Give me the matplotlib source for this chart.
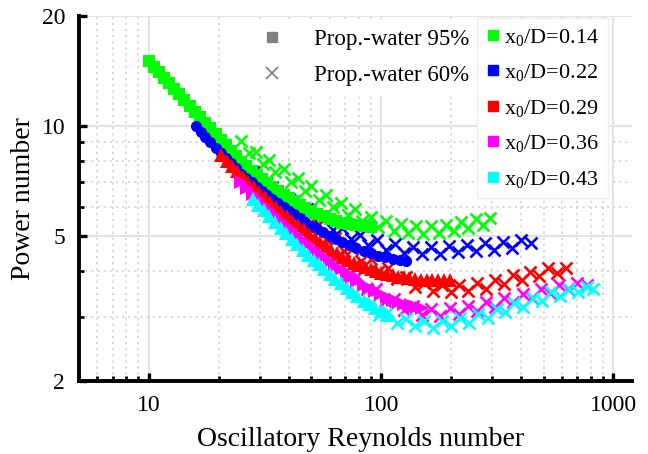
import matplotlib
matplotlib.use("Agg")
import matplotlib.pyplot as plt
from matplotlib.lines import Line2D
from matplotlib.ticker import FixedLocator, NullFormatter

plt.rcParams['font.family'] = ['Liberation Serif', 'DejaVu Serif']
plt.rcParams['mathtext.fontset'] = 'custom'
plt.rcParams['mathtext.rm'] = 'Liberation Serif'
plt.rcParams['mathtext.it'] = 'Liberation Serif:italic'

# ---------------- data ----------------
labels = ["x$_0$/D=0.14", "x$_0$/D=0.22", "x$_0$/D=0.29", "x$_0$/D=0.36", "x$_0$/D=0.43"]
colors = ["#00ff00", "#0000ff", "#ff0000", "#ff00ff", "#00ffff"]
markers95 = ["s", "o", "^", ">", "^"]

# Prop.-water 95%
re95_014 = [10, 10.5, 11, 11.6, 12.2, 12.8, 13.5, 14.2, 15, 15.8, 16.6, 17.5, 18.4, 19.4, 20.4,
            21.5, 22.6, 23.8, 25, 26.3, 27.7, 29.2, 30.7, 32.3, 34, 36, 38, 40, 42, 44.5, 47,
            50, 53, 56, 60, 64, 68, 73, 78, 84, 90]
po95_014 = [15.0, 14.5, 14.0, 13.5, 13.1, 12.6, 12.2, 11.8, 11.3, 10.9, 10.6, 10.2, 9.86, 9.5, 9.17,
            8.85, 8.55, 8.25, 7.97, 7.75, 7.52, 7.32, 7.14, 6.97, 6.8, 6.63, 6.48, 6.34, 6.22, 6.08, 5.96,
            5.84, 5.74, 5.65, 5.56, 5.49, 5.43, 5.38, 5.34, 5.31, 5.29]
re95_022 = [15.9, 16.7, 17.5, 18.4, 19.4, 20.4, 21.5, 22.6, 23.8, 25, 26.3, 27.7, 29.2, 30.7, 32.3,
            34, 36, 38, 40, 42, 44.5, 47, 50, 53, 56, 60, 64, 68, 73, 78, 84, 90, 97, 104, 112, 120, 128]
po95_022 = [10.0, 9.6, 9.3, 9.0, 8.7, 8.4, 8.15, 7.9, 7.65, 7.4, 7.2, 7.0, 6.8, 6.62, 6.46,
            6.3, 6.13, 5.98, 5.84, 5.72, 5.58, 5.45, 5.32, 5.21, 5.11, 5.0, 4.9, 4.8, 4.7, 4.62, 4.54,
            4.47, 4.41, 4.36, 4.31, 4.28, 4.26]
re95_029 = [20.5, 21.6, 22.7, 24, 25.3, 26.7, 28.2, 29.8, 31.5, 33.3, 35.2, 37.2, 39.3, 41.5, 43.8,
            46.3, 48.9, 51.7, 54.6, 57.7, 61, 64.5, 68, 72, 76, 80, 85, 90, 95, 100, 106, 112, 118,
            125, 132, 140, 148, 157, 166, 176, 186, 197]
po95_029 = [8.3, 8.0, 7.75, 7.5, 7.25, 7.0, 6.8, 6.6, 6.4, 6.2, 6.0, 5.82, 5.65, 5.5, 5.35,
            5.2, 5.06, 4.93, 4.8, 4.68, 4.57, 4.47, 4.38, 4.3, 4.22, 4.16, 4.1, 4.04, 4.0, 3.96, 3.92,
            3.89, 3.86, 3.84, 3.82, 3.8, 3.79, 3.78, 3.77, 3.77, 3.77, 3.77]
re95_036 = [25, 26.5, 28, 29.6, 31.3, 33, 35, 37, 39, 41.3, 43.6, 46, 48.6, 51.3, 54, 57, 60, 63.5,
            67, 71, 75, 79, 84, 89, 94, 100, 106, 112, 119, 126, 134, 142, 150]
po95_036 = [7.0, 6.75, 6.52, 6.3, 6.08, 5.88, 5.68, 5.5, 5.33, 5.17, 5.02, 4.88, 4.74, 4.6, 4.48,
            4.36, 4.25, 4.14, 4.04, 3.94, 3.85, 3.76, 3.67, 3.59, 3.52, 3.45, 3.39, 3.34, 3.29, 3.25,
            3.22, 3.19, 3.17]
re95_043 = [28, 29.6, 31.3, 33, 35, 37, 39, 41.3, 43.6, 46, 48.6, 51.3, 54, 57, 60, 63.5, 67, 71,
            75, 79, 84, 89, 94, 100, 106]
po95_043 = [6.3, 6.08, 5.86, 5.66, 5.45, 5.26, 5.08, 4.9, 4.74, 4.58, 4.43, 4.3, 4.17, 4.04, 3.92,
            3.81, 3.7, 3.6, 3.5, 3.41, 3.32, 3.24, 3.17, 3.1, 3.04]

# Prop.-water 60%
re60_014 = [25, 27, 29, 31, 33, 35, 38, 41, 44, 47, 50, 54, 58, 62, 67, 72, 77, 83, 90, 97, 105,
            113, 122, 131, 141, 152, 164, 177, 190, 205, 220, 237, 255, 275, 295]
po60_014 = [9.1, 8.4, 8.5, 7.85, 8.05, 7.45, 7.6, 7.0, 7.2, 6.62, 6.82, 6.28, 6.46, 5.99, 6.15,
            5.7, 5.9, 5.48, 5.64, 5.28, 5.48, 5.16, 5.38, 5.09, 5.33, 5.05, 5.31, 5.07, 5.35, 5.14,
            5.46, 5.25, 5.56, 5.34, 5.6]
re60_022 = [28, 31, 34, 37, 40, 44, 48, 52, 57, 62, 68, 74, 81, 88, 96, 105, 115, 125, 137, 150,
            164, 179, 196, 214, 234, 256, 280, 306, 334, 365, 400, 440]
po60_022 = [7.45, 6.8, 6.8, 6.25, 6.32, 5.88, 5.92, 5.5, 5.56, 5.18, 5.25, 4.9, 5.02, 4.7, 4.86,
            4.57, 4.73, 4.48, 4.66, 4.45, 4.65, 4.46, 4.68, 4.5, 4.72, 4.54, 4.76, 4.58, 4.8, 4.62,
            4.85, 4.78]
re60_029 = [45, 49, 53, 58, 63, 69, 75, 82, 90, 98, 107, 117, 128, 140, 153, 167, 182, 199, 217,
            237, 259, 283, 309, 337, 368, 402, 439, 479, 523, 571, 625]
po60_029 = [5.8, 5.35, 5.32, 4.9, 4.92, 4.55, 4.6, 4.26, 4.32, 4.0, 4.08, 3.8, 3.86, 3.62, 3.72,
            3.52, 3.66, 3.5, 3.66, 3.52, 3.7, 3.58, 3.79, 3.68, 3.89, 3.78, 3.98, 3.87, 4.07, 3.96, 4.08]
re60_036 = [55, 60, 66, 72, 79, 87, 95, 104, 114, 125, 137, 150, 164, 180, 197, 216, 236, 258,
            283, 310, 339, 371, 406, 445, 487, 533, 584, 640, 700, 770]
po60_036 = [4.45, 4.3, 4.25, 3.9, 3.88, 3.56, 3.57, 3.31, 3.35, 3.13, 3.2, 3.04, 3.14, 3.02, 3.16,
            3.05, 3.2, 3.11, 3.28, 3.18, 3.37, 3.28, 3.47, 3.38, 3.57, 3.48, 3.67, 3.57, 3.72, 3.67]
re60_043 = [90, 98, 107, 117, 128, 140, 153, 167, 183, 200, 219, 240, 262, 287, 314, 343, 375,
            410, 449, 491, 537, 587, 642, 702, 768, 820]
po60_043 = [3.26, 3.04, 3.08, 2.88, 2.96, 2.82, 2.91, 2.8, 2.92, 2.83, 2.97, 2.89, 3.05, 2.98,
            3.15, 3.08, 3.26, 3.19, 3.37, 3.31, 3.5, 3.42, 3.58, 3.5, 3.62, 3.57]

re95 = [re95_014, re95_022, re95_029, re95_036, re95_043]
po95 = [po95_014, po95_022, po95_029, po95_036, po95_043]
re60 = [re60_014, re60_022, re60_029, re60_036, re60_043]
po60 = [po60_014, po60_022, po60_029, po60_036, po60_043]

x_major = [10, 100, 1000]
y_major = [2, 5, 10, 20]

# ---------------- figure ----------------
fig = plt.figure(figsize=(6.48, 4.54), dpi=100)
ax = fig.add_axes([0.122, 0.161, 0.853, 0.804])
ax.set_xscale('log')
ax.set_yscale('log')
ax.set_xlim(5, 1200)
ax.set_ylim(2, 20)

for re, po, c in zip(re60, po60, colors):
    ax.plot(re, po, linestyle='none', marker='x', color=c, markersize=9, markeredgewidth=1.9, zorder=3)
for re, po, c, m in zip(re95, po95, colors, markers95):
    ms = 8 if m in ('s', 'o') else 10
    ax.plot(re, po, linestyle='none', marker=m, color=c, markersize=ms, markeredgewidth=0, zorder=4)

ax.xaxis.set_major_locator(FixedLocator(x_major))
ax.set_xticklabels([str(v) for v in x_major])
ax.xaxis.set_minor_locator(FixedLocator([v for v in range(5, 10)] + [v * 10 for v in range(2, 10)]
                                        + [v * 100 for v in range(2, 10)]))
ax.xaxis.set_minor_formatter(NullFormatter())
ax.yaxis.set_major_locator(FixedLocator(y_major))
ax.set_yticklabels([str(v) for v in y_major])
ax.yaxis.set_minor_locator(FixedLocator([3, 4, 6, 7, 8, 9]))
ax.yaxis.set_minor_formatter(NullFormatter())

ax.grid(True, which='major', color='#e3e3e3', linestyle='-', linewidth=1.6, zorder=0)
ax.grid(True, which='minor', color='#d6d6d6', linestyle=(0, (1.2, 2.2)), linewidth=1.3, zorder=0)
ax.set_axisbelow(True)

for s in ('top', 'right'):
    ax.spines[s].set_visible(False)
for s in ('left', 'bottom'):
    ax.spines[s].set_linewidth(2.8)
ax.tick_params(which='major', direction='in', length=6, width=2.4, labelsize=17, pad=10)
ax.tick_params(which='minor', direction='in', length=3.5, width=2.0)

ax.set_xlabel('Oscillatory Reynolds number', fontsize=20)
ax.set_ylabel('Power number', fontsize=20)
ax.xaxis.set_label_coords(0.51, -0.126)
ax.yaxis.set_label_coords(-0.078, 0.5)

# legends
h1 = [Line2D([], [], linestyle='none', marker='s', color='#808080', markersize=7),
      Line2D([], [], linestyle='none', marker='x', color='#808080', markersize=8, markeredgewidth=1.2)]
leg1 = ax.legend(h1, ['Prop.-water 95%', 'Prop.-water 60%'], loc='upper left',
                 bbox_to_anchor=(0.2915, 1.02), fontsize=16.5, frameon=True, framealpha=1,
                 edgecolor='white', fancybox=False, handlelength=1.0, handletextpad=1.33,
                 labelspacing=0.65, borderpad=0.4)
ax.add_artist(leg1)
h2 = [Line2D([], [], linestyle='none', marker='s', color=c, markersize=7) for c in colors]
leg2 = ax.legend(h2, labels, loc='upper right', bbox_to_anchor=(0.977, 1.025), fontsize=16,
                 frameon=True, framealpha=1, edgecolor='#eeeeee', fancybox=False,
                 handlelength=0.6, handletextpad=0.2, labelspacing=0.65, borderpad=0.4)

fig.savefig('out.png', dpi=100)
